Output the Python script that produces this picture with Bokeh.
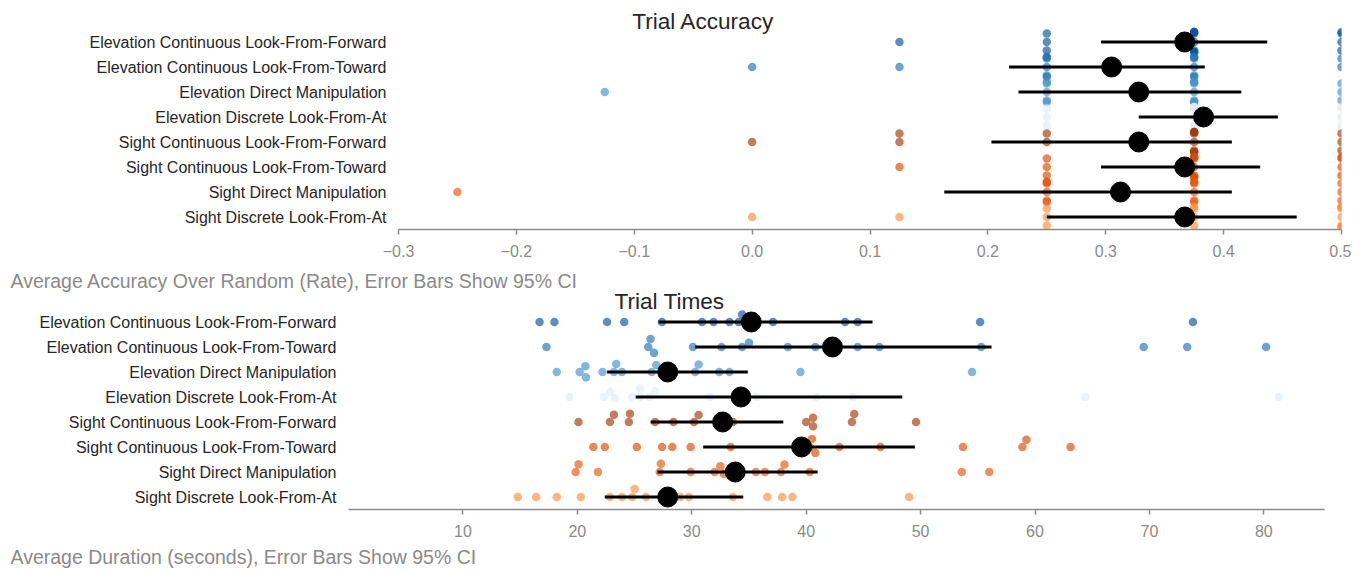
import numpy as np
from bokeh.plotting import figure
from bokeh.models import Range1d, FixedTicker, ColumnDataSource, Title
from bokeh.core.properties import value
from bokeh.layouts import column, row
from bokeh.embed import file_html
from bokeh.resources import INLINE

# ---------------- data ----------------
conditions = [
    "Elevation Continuous Look-From-Forward",
    "Elevation Continuous Look-From-Toward",
    "Elevation Direct Manipulation",
    "Elevation Discrete Look-From-At",
    "Sight Continuous Look-From-Forward",
    "Sight Continuous Look-From-Toward",
    "Sight Direct Manipulation",
    "Sight Discrete Look-From-At",
]

# per-participant accuracy over random (rate)
acc_ecf = [0.125, 0.25, 0.25, 0.25, 0.375, 0.375, 0.375, 0.375, 0.375, 0.375, 0.375, 0.375, 0.5, 0.5, 0.5, 0.5]
acc_ect = [0.0, 0.125, 0.25, 0.25, 0.25, 0.25, 0.25, 0.25, 0.375, 0.375, 0.375, 0.375, 0.375, 0.375, 0.5, 0.5]
acc_edm = [-0.125, 0.25, 0.25, 0.25, 0.25, 0.25, 0.375, 0.375, 0.375, 0.375, 0.375, 0.375, 0.375, 0.5, 0.5, 0.5]
acc_edl = [0.25, 0.25, 0.25, 0.375, 0.375, 0.375, 0.375, 0.375, 0.375, 0.375, 0.375, 0.375, 0.5, 0.5, 0.5, 0.5]
acc_scf = [0.0, 0.125, 0.125, 0.25, 0.25, 0.375, 0.375, 0.375, 0.375, 0.375, 0.375, 0.375, 0.375, 0.5, 0.5, 0.5]
acc_sct = [0.125, 0.25, 0.25, 0.25, 0.375, 0.375, 0.375, 0.375, 0.375, 0.375, 0.375, 0.375, 0.5, 0.5, 0.5, 0.5]
acc_sdm = [-0.25, 0.25, 0.25, 0.25, 0.25, 0.25, 0.25, 0.375, 0.375, 0.375, 0.375, 0.375, 0.375, 0.5, 0.5, 0.5]
acc_sdl = [0.0, 0.125, 0.25, 0.25, 0.25, 0.375, 0.375, 0.375, 0.375, 0.5, 0.5, 0.5, 0.5, 0.5, 0.5, 0.5]

acc_mean = [0.367, 0.305, 0.328, 0.383, 0.328, 0.367, 0.3125, 0.367]
acc_lo = [0.296, 0.218, 0.226, 0.328, 0.203, 0.296, 0.163, 0.250]
acc_hi = [0.437, 0.384, 0.415, 0.446, 0.407, 0.431, 0.407, 0.462]

# per-participant average duration (seconds)
t_ecf = [16.7, 18.0, 22.6, 24.1, 27.4, 30.9, 31.9, 33.3, 34.1, 34.4, 35.2, 37.1, 43.4, 44.5, 55.2, 73.8]
t_ect = [17.3, 26.2, 26.4, 26.7, 30.1, 32.6, 34.4, 35.0, 38.4, 40.8, 44.5, 46.4, 55.3, 69.5, 73.3, 80.2]
t_edm = [18.2, 20.2, 20.7, 20.75, 22.2, 23.2, 23.4, 23.9, 26.5, 26.9, 30.3, 30.6, 32.4, 33.3, 39.5, 54.5]
t_edl = [19.3, 22.3, 22.85, 23.3, 24.8, 25.5, 25.5, 26.3, 26.8, 31.6, 34.3, 35.7, 40.9, 44.1, 64.4, 81.3]
t_scf = [20.1, 22.85, 23.2, 24.5, 24.6, 26.8, 28.4, 30.2, 30.6, 33.6, 40.0, 40.6, 40.6, 44.0, 44.2, 49.6]
t_sct = [21.4, 22.4, 25.2, 27.4, 28.3, 29.9, 33.4, 40.3, 40.5, 40.8, 42.9, 46.5, 53.7, 58.9, 59.25, 63.1]
t_sdm = [19.85, 20.1, 21.8, 27.2, 27.3, 29.9, 32.0, 32.5, 32.8, 35.6, 36.4, 37.8, 38.1, 40.3, 53.6, 56.0]
t_sdl = [14.8, 16.4, 18.2, 20.3, 22.85, 23.9, 24.8, 25.0, 26.0, 29.0, 29.75, 33.6, 36.6, 37.9, 38.8, 49.0]

t_mean = [35.2, 42.3, 27.9, 34.3, 32.7, 39.6, 33.8, 27.9]
t_lo = [27.1, 30.3, 22.6, 25.1, 26.4, 31.0, 27.0, 22.4]
t_hi = [45.8, 56.2, 34.9, 48.4, 38.0, 49.5, 41.0, 34.5]

acc_ticks = [-0.3, -0.2, -0.1, 0.0, 0.1, 0.2, 0.3, 0.4, 0.5]
acc_tick_labels = ["\u22120.3", "\u22120.2", "\u22120.1", "0.0", "0.1", "0.2", "0.3", "0.4", "0.5"]
t_ticks = [10, 20, 30, 40, 50, 60, 70, 80]
t_tick_labels = ["10", "20", "30", "40", "50", "60", "70", "80"]

colors = ["#08519c", "#2171b5", "#4292c6", "#deebf7", "#a63603", "#d94801", "#e6550d", "#fd8d3c"]

acc_data = [acc_ecf, acc_ect, acc_edm, acc_edl, acc_scf, acc_sct, acc_sdm, acc_sdl]
t_data = [t_ecf, t_ect, t_edm, t_edl, t_scf, t_sct, t_sdm, t_sdl]

title_acc = "Trial Accuracy"
title_t = "Trial Times"
xlabel_acc = "Average Accuracy Over Random (Rate), Error Bars Show 95% CI"
xlabel_t = "Average Duration (seconds), Error Bars Show 95% CI"

# ---------------- style / layout ----------------
FONT = "Liberation Sans"
DARK = "#262626"
GREY = "#8a8a8a"
ROW_PX = 25.0
DOT = 8.0
PAGE_W = 1351


def swarm_offsets(values, px_per_unit, d=DOT, limit=0.4 * ROW_PX):
    """Seaborn-like beeswarm: vertical pixel offsets (negative = up)."""
    vals = np.asarray(values, float)
    order = np.argsort(vals, kind="stable")
    placed = []
    offs = np.zeros(len(vals))
    for idx in order:
        x = vals[idx] * px_per_unit
        neigh = [(px, po) for px, po in placed if abs(px - x) < d]
        cands = [0.0]
        left = True
        for px, po in neigh:
            dx = x - px
            dy = np.sqrt(max(d * d - dx * dx, 0.0)) * 1.05
            cands.extend([po - dy, po + dy] if left else [po + dy, po - dy])
            left = not left
        cands.sort(key=abs)
        chosen = cands[-1]
        for c in cands:
            if all((x - px) ** 2 + (c - po) ** 2 >= d * d * 0.999 for px, po in neigh):
                chosen = c
                break
        placed.append((x, chosen))
        offs[idx] = chosen
    return np.clip(offs, -limit, limit)


def make_title(text, size, color, offset, standoff):
    return Title(text=text, align="left", offset=offset, standoff=standoff,
                 text_font=FONT, text_font_size=size, text_color=color,
                 text_font_style="normal")


def build(data, means, lo, hi, x_start, x_end, frame_left, frame_w, frame_h,
          top_border, bottom_border, ticks, tick_labels, title, title_px, title_mid):
    """Rows occupy the bottom 200px of the frame; the title sits in the frame's
    upper padding. title_px: page x where the title starts; title_mid: px from
    frame top to the title's middle."""
    y_top = 7.5 - frame_h / ROW_PX
    p = figure(frame_width=frame_w, frame_height=frame_h,
               x_range=Range1d(x_start, x_end), y_range=Range1d(7.5, y_top),
               output_backend="svg", toolbar_location=None,
               min_border_left=frame_left, min_border_right=PAGE_W - frame_left - frame_w,
               min_border_top=top_border, min_border_bottom=bottom_border)
    p.outline_line_color = None
    p.xgrid.visible = False
    p.ygrid.visible = False

    px_per_unit = frame_w / (x_end - x_start)
    xs, ys, cs = [], [], []
    for i, vals in enumerate(data):
        offs = swarm_offsets(vals, px_per_unit)
        for v, o in zip(vals, offs):
            xs.append(v)
            ys.append(i + o / ROW_PX)
            cs.append(colors[i])
    src = ColumnDataSource(dict(x=xs, y=ys, c=cs))
    p.scatter(x="x", y="y", source=src, size=8.5, fill_color="c",
              fill_alpha=0.65, line_color=None)

    rows = list(range(len(data)))
    p.segment(x0=lo, y0=rows, x1=hi, y1=rows, line_width=3, line_color="black")
    p.scatter(x=means, y=rows, size=20, fill_color="black", line_color="black")

    p.text(x=[x_start + (title_px - frame_left) / px_per_unit],
           y=[y_top + title_mid / ROW_PX],
           text=[title], text_font=value(FONT), text_font_size="22.6px",
           text_color=DARK, text_baseline="middle", text_align="left")

    xa = p.xaxis[0]
    xa.ticker = FixedTicker(ticks=ticks)
    xa.major_label_overrides = {t: l for t, l in zip(ticks, tick_labels)}
    xa.axis_line_color = "#8c8c8c"
    xa.axis_line_width = 1.5
    xa.major_tick_line_color = "#8c8c8c"
    xa.major_tick_line_width = 1.5
    xa.major_tick_out = 5
    xa.major_tick_in = 0
    xa.minor_tick_line_color = None
    xa.major_label_text_font = FONT
    xa.major_label_text_font_size = "16px"
    xa.major_label_text_color = GREY
    xa.major_label_standoff = 10

    ya = p.yaxis[0]
    ya.ticker = FixedTicker(ticks=rows)
    ya.major_label_overrides = {i: c for i, c in enumerate(conditions)}
    ya.axis_line_color = None
    ya.major_tick_line_color = None
    ya.minor_tick_line_color = None
    ya.major_tick_out = 0
    ya.major_tick_in = 0
    ya.major_label_standoff = 12
    ya.major_label_text_font = FONT
    ya.major_label_text_font_size = "16px"
    ya.major_label_text_color = DARK
    return p


# top chart: frame x 398..1341, y 0..229
p1 = build(acc_data, acc_mean, acc_lo, acc_hi, -0.3, 0.5, 398, 943, 229, 0, 37,
           acc_ticks, acc_tick_labels, title_acc, 631.7, 20.5)

# bottom chart: frame x 348..1324, y 291..509
p2 = build(t_data, t_mean, t_lo, t_hi, 0.0, 85.3, 348, 976, 218, 25, 61,
           t_ticks, t_tick_labels, title_t, 614, 10.1)

# axis titles (left-aligned at page x 10)
p2.add_layout(make_title(xlabel_acc, "19.5px", GREY, 10 - 348, 0), "above")
p2.add_layout(make_title(xlabel_t, "19.5px", GREY, 10 - 348, 8), "below")

p = column(row(p1), row(p2))
open("out.html", "w").write(file_html(p, INLINE))
